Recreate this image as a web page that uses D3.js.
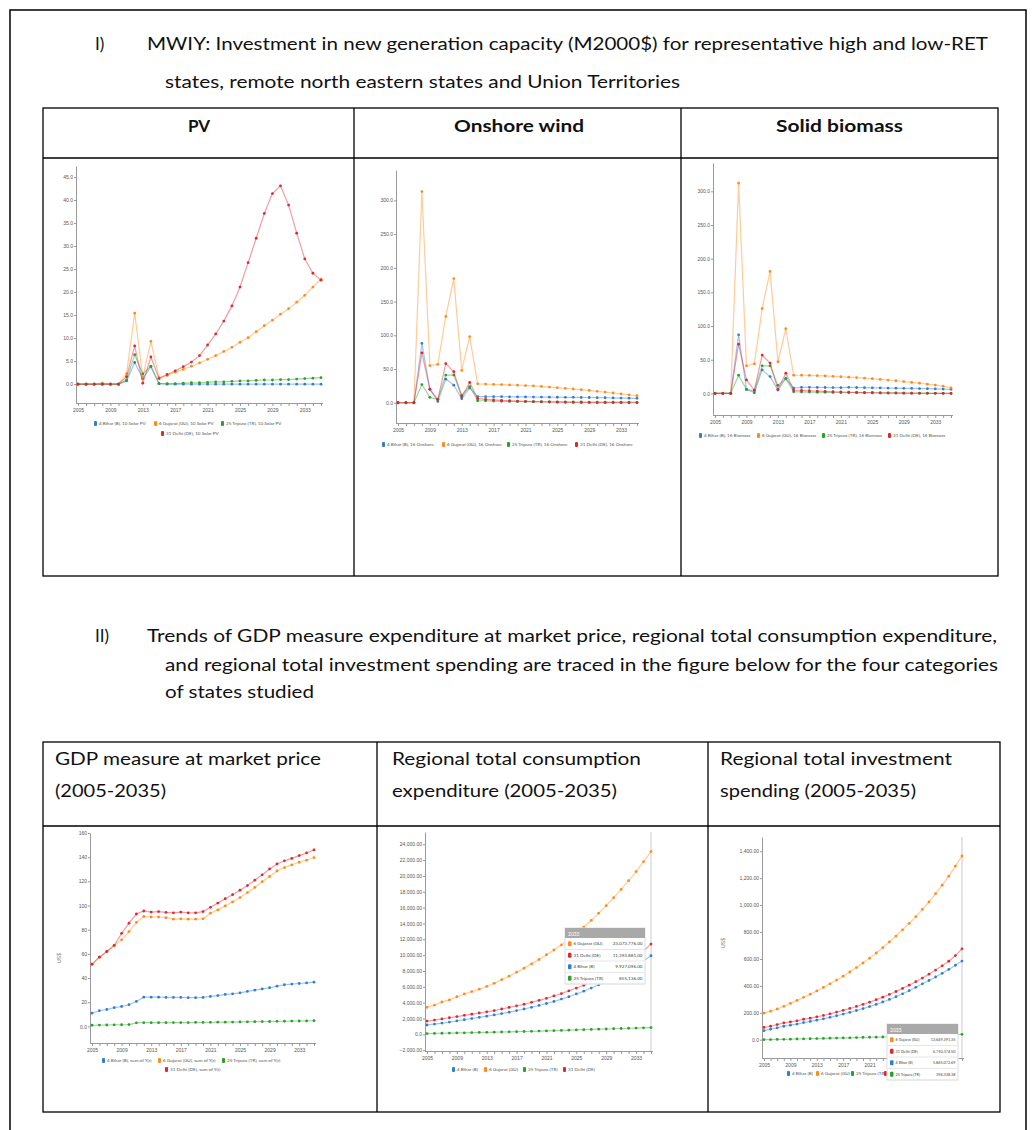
<!DOCTYPE html>
<html>
<head>
<meta charset="utf-8">
<script src="https://cdn.jsdelivr.net/npm/d3@7"></script>
<style>
  body { margin: 0; background: #fff; }
  svg text { font-family: Lato, "Open Sans", sans-serif; }
  .tick text { font-family: "Liberation Sans", Arial, sans-serif; }
</style>
</head>
<body>
<div id="page"></div>
<script>
const width = 1032;
const height = 1130;

// categories
const years = [2005, 2006, 2007, 2008, 2009, 2010, 2011, 2012, 2013, 2014, 2015, 2016, 2017, 2018, 2019, 2020,
    2021, 2022, 2023, 2024, 2025, 2026, 2027, 2028, 2029, 2030, 2031, 2032, 2033, 2034, 2035];
const states = ["4 Bihar (B)", "6 Gujarat (GU)", "25 Tripura (TR)", "31 Delhi (DE)"];
const stateColors = ["#2f7fd0", "#ff8c1a", "#2ca02c", "#e0262f"];

// PV investment (M2000$)
const pvBihar = [0, 0, 0, 0, 0, 0, 0.7, 4.7, 1.2, 3.8, 0.1, 0, 0, 0, 0, 0, 0, 0, 0, 0, 0, 0, 0, 0, 0, 0, 0, 0, 0, 0, 0];
const pvGujarat = [0, 0, 0, 0.2, 0, 0, 2.3, 15.4, 1.5, 9.3, 1.4, 1.9, 2.6, 3.2, 3.9, 4.6, 5.4, 6.2, 7.1, 8.0, 9.1,
    10.1, 11.4, 12.7, 13.9, 15.2, 16.4, 17.8, 19.3, 21.1, 22.8];
const pvTripura = [0, 0, 0, 0, 0, 0, 0.9, 6.4, 2.2, 3.9, 0.1, 0.1, 0.1, 0.2, 0.3, 0.3, 0.4, 0.5, 0.5, 0.6, 0.7,
    0.7, 0.8, 0.9, 0.9, 1.0, 1.0, 1.1, 1.2, 1.3, 1.4];
const pvDelhi = [0, 0, 0, 0, 0, 0, 1.6, 8.3, 0.2, 5.9, 1.2, 2.1, 2.9, 3.8, 4.8, 6.2, 8.5, 10.9, 13.7, 17.0, 21.1,
    26.4, 31.7, 37.1, 41.4, 43.1, 38.9, 32.8, 27.2, 24.1, 22.6];

// Onshore wind investment
const windBihar = [0, 0, 0, 88, 20, 2, 35, 26, 6, 22, 9, 9, 9, 9, 8.8, 8.7, 8.6, 8.5, 8.4, 8.3, 8.2,
    8.1, 8, 7.9, 7.8, 7.6, 7.4, 7.2, 7, 6.8, 6.5];
const windGujarat = [0, 0, 0, 313, 55, 57, 128, 184, 48, 98, 28, 27.7, 27.3, 27, 26.5, 26, 25.5, 25, 24.2, 23.3, 22.4,
    21.4, 20.4, 19.4, 18.3, 17, 15.8, 14.5, 13.2, 11.8, 10.4];
const windTripura = [0, 0, 0, 27, 8, 5, 41, 41, 11, 24, 3, 3, 2.5, 2.2, 2, 1.8, 1.7, 1.6, 1.5, 1.4, 1.3,
    1.2, 1.1, 1.1, 1, 1, 0.9, 0.9, 0.8, 0.8, 0.7];
const windDelhi = [0, 0, 0, 74, 20, 5, 58, 46, 9, 30, 6, 5, 4.2, 3.6, 3, 2.5, 2, 1.7, 1.4, 1.1, 0.9,
    0.7, 0.5, 0.4, 0.3, 0.2, 0.2, 0.1, 0.1, 0, 0];

// Solid biomass investment
const bioBihar = [0, 0, 0, 87, 6, 1, 35, 25, 5, 22, 8, 9, 9, 8.9, 8.8, 8.7, 8.6, 9, 8.8, 8.6, 8.4,
    8.2, 8, 7.8, 7.6, 7.4, 7.2, 7, 6.8, 6.5, 6.2];
const bioGujarat = [0, 0, 0, 312, 41, 44, 126, 181, 47, 96, 27, 27, 26.8, 26.4, 26, 25.4, 24.8, 24.2, 23.5, 22.7, 21.8,
    20.8, 19.8, 18.8, 17.6, 16.4, 15.2, 13.8, 12.4, 10.8, 8.4];
const bioTripura = [0, 0, 0, 27, 6, 4, 41, 41, 12, 22, 2.5, 2.2, 2, 1.8, 1.6, 1.5, 1.4, 1.3, 1.2, 1.1, 1,
    0.9, 0.8, 0.7, 0.6, 0.5, 0.4, 0.3, 0.2, 0.1, 0];
const bioDelhi = [0, 0, 0, 73, 20, 5, 57, 45, 6, 30, 5, 4.5, 4, 3.5, 3, 2.5, 2.1, 1.8, 1.5, 1.2, 1,
    0.8, 0.6, 0.5, 0.4, 0.3, 0.2, 0.1, 0.1, 0, 0];

// GDP at market price
const gdpBihar = [11, 13, 14, 15.5, 16.5, 18, 20.7, 24.2, 24.2, 24.2, 24, 24, 24, 23.8, 23.8, 24,
    24.8, 25.5, 26.5, 27, 27.8, 29, 30, 31, 32, 33.3, 34.5, 35, 35.5, 36, 36.6];
const gdpGujarat = [51.5, 57.3, 62, 67, 71.6, 78.5, 86, 91, 90.5, 90.5, 90, 88.7, 89, 88.7, 88.7, 89,
    93.7, 96.4, 99.7, 103, 106.6, 110.7, 115, 119.7, 124, 128.6, 131.4, 133.6, 135.8, 137.5, 139.7];
const gdpTripura = [1, 1.1, 1.2, 1.3, 1.4, 1.5, 3, 3.1, 3.1, 3.1, 3.1, 3.2, 3.2, 3.2, 3.3, 3.3,
    3.4, 3.5, 3.5, 3.6, 3.7, 3.8, 3.9, 4, 4.1, 4.2, 4.3, 4.4, 4.5, 4.6, 4.7];
const gdpDelhi = [51.5, 57.3, 62, 67, 77, 85.4, 93, 95.5, 94.6, 95, 94.4, 94, 94.6, 94, 94, 95,
    98.5, 102, 105.6, 109, 112.7, 116.5, 121, 125.4, 130.3, 134.4, 137, 139, 141.3, 143.5, 146];

// Regional total consumption expenditure (millions)
const consBihar = [1.18, 1.30, 1.42, 1.55, 1.70, 1.85, 2.00, 2.15, 2.30, 2.45, 2.62, 2.80, 3.00, 3.20, 3.42, 3.65,
    3.90, 4.15, 4.45, 4.75, 5.10, 5.45, 5.85, 6.25, 6.70, 7.15, 7.65, 8.20, 8.75, 9.30, 9.927096];
const consGujarat = [3.41, 3.70, 4.10, 4.35, 4.75, 5.10, 5.40, 5.70, 6.05, 6.45, 6.90, 7.35, 7.85, 8.35, 8.90, 9.45,
    10.05, 10.65, 11.30, 12.00, 12.75, 13.55, 14.40, 15.30, 16.25, 17.25, 18.30, 19.40, 20.55, 21.80, 23.073776];
const consTripura = [0.10, 0.12, 0.14, 0.16, 0.18, 0.20, 0.22, 0.24, 0.26, 0.28, 0.30, 0.32, 0.34, 0.36, 0.38, 0.41,
    0.44, 0.47, 0.50, 0.53, 0.56, 0.59, 0.62, 0.65, 0.68, 0.71, 0.74, 0.77, 0.80, 0.83, 0.855136];
const consDelhi = [1.68, 1.80, 1.95, 2.10, 2.25, 2.40, 2.55, 2.70, 2.85, 3.00, 3.20, 3.40, 3.60, 3.80, 4.05, 4.30,
    4.55, 4.85, 5.15, 5.50, 5.85, 6.20, 6.60, 7.05, 7.50, 8.00, 8.55, 9.15, 9.80, 10.55, 11.393881];

// Regional total investment spending (ten thousands)
const invBihar = [67, 78, 88, 100, 108, 116, 127, 136, 145, 155, 166, 178, 190, 203, 217, 231,
    246, 262, 280, 299, 319, 341, 364, 389, 415, 440, 466, 493, 522, 553, 584.507269];
const invGujarat = [197, 212, 228, 248, 270, 292, 315, 338, 362, 388, 415, 443, 472, 503, 536, 570,
    606, 644, 684, 726, 770, 816, 864, 915, 968, 1023, 1085, 1148, 1215, 1290, 1364.939135];
const invTripura = [0, 1, 2, 3, 4, 5, 6, 7, 8, 9.5, 11, 12, 13, 14, 15.5, 17,
    18, 19, 20, 21.5, 23, 24.5, 26, 27.5, 29, 30.5, 32, 33.5, 35, 37, 39.633838];
const invDelhi = [91, 100, 112, 125, 132, 140, 152, 160, 170, 180, 192, 205, 218, 232, 247, 262,
    279, 297, 316, 336, 358, 381, 405, 431, 458, 487, 517, 549, 583, 625, 675.037450];

// tick values
const pvTicks = [0, 5, 10, 15, 20, 25, 30, 35, 40, 45];
const windTicks = [0, 50, 100, 150, 200, 250, 300];
const gdpTicks = [0, 20, 40, 60, 80, 100, 120, 140, 160];
const consTicks = [-2, 0, 2, 4, 6, 8, 10, 12, 14, 16, 18, 20, 22, 24];
const invTicks = [0, 200, 400, 600, 800, 1000, 1200, 1400];

const svg = d3.select("#page").append("svg")
    .attr("width", width)
    .attr("height", height);

svg.append("rect").attr("width", width).attr("height", height).attr("fill", "#fff");

// page border
svg.append("path")
    .attr("d", "M10,1130 V10 H1026 V1130")
    .attr("fill", "none")
    .attr("stroke", "#000")
    .attr("stroke-width", 1.5);

function docText(str, x, y, len, opts = {}) {
    const t = svg.append("text")
        .attr("x", x)
        .attr("y", y)
        .attr("font-size", opts.size || 17)
        .attr("font-weight", opts.bold ? "bold" : "normal")
        .attr("fill", "#111")
        .text(str);
    if (len) t.attr("textLength", len).attr("lengthAdjust", "spacingAndGlyphs");
    if (opts.anchor) t.attr("text-anchor", opts.anchor);
    return t;
}

// section I
docText("I)", 95, 50, null);
docText("MWIY: Investment in new generation capacity (M2000$) for representative high and low-RET", 147, 50, 841);
docText("states, remote north eastern states and Union Territories", 165, 88, 515);

function drawTable(x0, x1, y0, y1, headBottom, cols) {
    const g = svg.append("g").attr("fill", "none").attr("stroke", "#000").attr("stroke-width", 1.3);
    g.append("rect").attr("x", x0).attr("y", y0).attr("width", x1 - x0).attr("height", y1 - y0);
    g.append("line").attr("x1", x0).attr("x2", x1).attr("y1", headBottom).attr("y2", headBottom);
    cols.forEach(c => g.append("line").attr("x1", c).attr("x2", c).attr("y1", y0).attr("y2", y1));
}

drawTable(43, 998, 108, 576, 158, [354, 681]);
docText("PV", 199, 132, null, { bold: true, anchor: "middle" });
docText("Onshore wind", 454, 132, 130, { bold: true });
docText("Solid biomass", 776, 132, 127, { bold: true });

// section II
docText("II)", 95, 642, null);
docText("Trends of GDP measure expenditure at market price, regional total consumption expenditure,", 147, 642, 850);
docText("and regional total investment spending are traced in the figure below for the four categories", 165, 671, 833);
docText("of states studied", 165, 698, 149);

drawTable(43, 1000, 742, 1112, 826, [377, 708]);
docText("GDP measure at market price", 55, 765, 266);
docText("(2005-2035)", 55, 797, 111);
docText("Regional total consumption", 392, 765, 249);
docText("expenditure (2005-2035)", 392, 797, 225);
docText("Regional total investment", 720, 765, 232);
docText("spending (2005-2035)", 720, 797, 196);

function drawChart(o) {
    const g = svg.append("g");
    const x = d3.scaleLinear().domain([2005, 2035]).range([o.x0, o.x1]);
    const y = d3.scaleLinear().domain(o.yDomain).range(o.yRange);

    if (o.crosshair) {
        g.append("line")
            .attr("x1", x(2035)).attr("x2", x(2035))
            .attr("y1", o.yRange[1]).attr("y2", o.yRange[0])
            .attr("stroke", "#ddd").attr("stroke-width", 1.5);
    }

    // year labels that sit under the tooltip are covered in the original
    const coveredBy = o.tooltip && o.tooltip.y + o.tooltip.h > o.yRange[0] ? o.tooltip.x - 6 : Infinity;

    const yAxis = g.append("g")
        .attr("transform", `translate(${o.x0 - 2},0)`)
        .call(d3.axisLeft(y).tickValues(o.yTicks).tickFormat(o.yFmt).tickSize(2).tickSizeOuter(0));
    const xAxis = g.append("g")
        .attr("transform", `translate(0,${o.yRange[0]})`)
        .call(d3.axisBottom(x).tickValues(years)
            .tickFormat((d, i) => i % 4 === 0 && x(d) < coveredBy ? d : "")
            .tickSize(3).tickSizeOuter(0));
    xAxis.select(".domain").attr("d", `M${o.x0 - 2},0.5H${o.x1 + 2}`);
    [yAxis, xAxis].forEach(a => {
        a.select(".domain").attr("stroke", "#999");
        a.selectAll(".tick line").attr("stroke", "#999");
        a.selectAll(".tick text").attr("font-size", 5).attr("fill", "#555");
    });
    yAxis.selectAll(".tick text").attr("x", -3);
    xAxis.selectAll(".tick text").attr("y", 5);

    if (o.yLabel) {
        g.append("text")
            .attr("transform", `translate(${o.yLabel[0]},${o.yLabel[1]}) rotate(-90)`)
            .attr("text-anchor", "middle")
            .attr("font-size", 6)
            .attr("fill", "#888")
            .text("US$");
    }

    const line = d3.line().x((d, i) => x(years[i])).y(d => y(d));
    o.series.forEach((s, k) => {
        const c = stateColors[s.state];
        g.append("path")
            .datum(s.values)
            .attr("d", line)
            .attr("fill", "none")
            .attr("stroke", c)
            .attr("stroke-opacity", 0.45)
            .attr("stroke-width", 1.2);
        g.append("g").selectAll("circle")
            .data(s.values)
            .join("circle")
            .attr("cx", (d, i) => x(years[i]))
            .attr("cy", d => y(d))
            .attr("r", 1.4)
            .attr("fill", c);
    });

    // legend (an entry hidden behind the tooltip keeps only its marker)
    o.legend.forEach(([lx, ly, k, hidden]) => {
        g.append("rect")
            .attr("x", lx).attr("y", ly - 4)
            .attr("width", 3).attr("height", 5).attr("rx", 1)
            .attr("fill", stateColors[k]);
        if (hidden) return;
        g.append("text")
            .attr("x", lx + 5).attr("y", ly)
            .attr("font-size", 4.6)
            .attr("fill", "#555")
            .text(states[k] + o.suffix);
    });

    if (o.tooltip) {
        const t = o.tooltip;
        const fs = t.fs || 4.6;
        const tg = g.append("g").attr("transform", `translate(${t.x},${t.y})`);
        tg.append("rect").attr("width", t.w).attr("height", t.h)
            .attr("fill", "#fff").attr("stroke", "#ddd");
        tg.append("rect").attr("width", t.w).attr("height", 10).attr("fill", "#a9a9a9");
        tg.append("text").attr("x", 3).attr("y", 7.5).attr("font-size", 5).attr("fill", "#fff").text("2035");
        t.order.forEach((k, r) => {
            const ry = 10 + r * (t.h - 10) / 4;
            const rh = (t.h - 10) / 4;
            tg.append("line").attr("x1", 1).attr("x2", t.w - 1).attr("y1", ry + rh).attr("y2", ry + rh).attr("stroke", "#e6e6e6");
            tg.append("rect").attr("x", 3).attr("y", ry + rh / 2 - 2.5).attr("width", 3.5).attr("height", 5).attr("rx", 1)
                .attr("fill", stateColors[k]);
            tg.append("text").attr("x", 8.5).attr("y", ry + rh / 2 + 1.6).attr("font-size", fs).attr("fill", "#444")
                .text(states[k]);
            const v = o.series.find(s => s.state === k).values[years.length - 1];
            tg.append("text").attr("x", t.w - 2.5).attr("y", ry + rh / 2 + 1.6).attr("font-size", fs)
                .attr("text-anchor", "end").attr("fill", "#444")
                .text(d3.format(",.2f")(v * t.scale));
        });
    }
}

const fmt1 = d => d3.format(".1f")(d);
const zeroOr = f => d => d === 0 ? "0.0" : f(d);

drawChart({
    x0: 78, x1: 321, yDomain: [-4.1, 47.4], yRange: [403, 166],
    yTicks: pvTicks, yFmt: fmt1, suffix: ", 10 Solar PV",
    series: [{ state: 0, values: pvBihar }, { state: 1, values: pvGujarat }, { state: 2, values: pvTripura }, { state: 3, values: pvDelhi }],
    legend: [[94, 425, 0], [154, 425, 1], [221, 425, 2], [161, 435, 3]]
});

drawChart({
    x0: 398, x1: 637, yDomain: [-30, 345], yRange: [423, 170],
    yTicks: windTicks, yFmt: fmt1, suffix: ", 16 Onshore",
    series: [{ state: 0, values: windBihar }, { state: 1, values: windGujarat }, { state: 2, values: windTripura }, { state: 3, values: windDelhi }],
    legend: [[382, 446, 0], [442, 446, 1], [507, 446, 2], [575, 446, 3]]
});

drawChart({
    x0: 715, x1: 951, yDomain: [-32, 342], yRange: [415, 163],
    yTicks: windTicks, yFmt: fmt1, suffix: ", 16 Biomass",
    series: [{ state: 0, values: bioBihar }, { state: 1, values: bioGujarat }, { state: 2, values: bioTripura }, { state: 3, values: bioDelhi }],
    legend: [[699, 437, 0], [757, 437, 1], [822, 437, 2], [888, 437, 3]]
});

drawChart({
    x0: 92, x1: 314, yDomain: [-13.7, 160], yRange: [1043, 833],
    yTicks: gdpTicks, yFmt: zeroOr(d3.format("d")), suffix: ", sum of Y(r)",
    yLabel: [61, 958],
    series: [{ state: 0, values: gdpBihar }, { state: 1, values: gdpGujarat }, { state: 2, values: gdpTripura }, { state: 3, values: gdpDelhi }],
    legend: [[102, 1062, 0], [158, 1062, 1], [222, 1062, 2], [165, 1071, 3]]
});

drawChart({
    x0: 427, x1: 651, yDomain: [-2.1, 25.55], yRange: [1051, 832],
    yTicks: consTicks, yFmt: zeroOr(d => d3.format(",.2f")(d * 1000)), suffix: "",
    crosshair: true,
    series: [{ state: 0, values: consBihar }, { state: 1, values: consGujarat }, { state: 2, values: consTripura }, { state: 3, values: consDelhi }],
    legend: [[452, 1071, 0], [484, 1071, 1], [523, 1071, 2], [563, 1071, 3]],
    tooltip: { x: 565, y: 928, w: 80, h: 56, order: [1, 3, 0, 2], scale: 1e6 }
});

drawChart({
    x0: 764, x1: 962, yDomain: [-136, 1506], yRange: [1058, 837],
    yTicks: invTicks, yFmt: zeroOr(d3.format(",.2f")), suffix: "",
    crosshair: true, yLabel: [725, 943],
    series: [{ state: 0, values: invBihar }, { state: 1, values: invGujarat }, { state: 2, values: invTripura }, { state: 3, values: invDelhi }],
    legend: [[787, 1075, 0], [816, 1075, 1], [851, 1075, 2], [884, 1075, 3, true]],
    tooltip: { x: 887, y: 1024, w: 71, h: 56, order: [1, 3, 0, 2], scale: 1e4, fs: 3.8 }
});
</script>
</body>
</html>
